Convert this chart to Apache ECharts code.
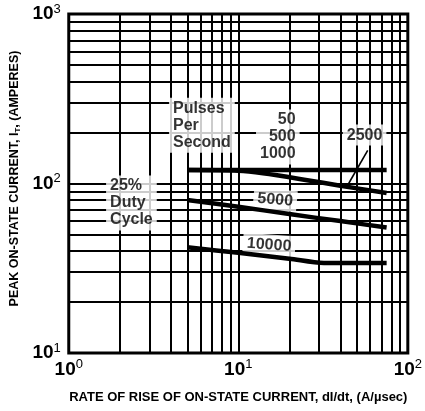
<!DOCTYPE html>
<html>
<head>
<meta charset="utf-8">
<script src="https://cdn.jsdelivr.net/npm/echarts@6/dist/echarts.min.js"></script>
<style>
  html, body { margin: 0; padding: 0; background: #fff; }
  #main { width: 425px; height: 411px; }
</style>
</head>
<body>
<div id="main"></div>
<script>
// grid lines of the log paper
var xGrid = [1, 2, 3, 4, 5, 6, 7, 8, 9, 10, 20, 30, 40, 50, 60, 70, 80, 90, 100]
var yGrid = [10, 20, 30, 40, 50, 60, 70, 80, 90, 100, 200, 300, 400, 500, 600, 700, 800, 900, 1000]

// curves, dI/dt (A/usec) against peak current (A)
var dIdtTop = [5, 75]
var ampsTop = [120, 120] // 50, 500, 1000 pps
var dIdt2500 = [5, 10, 14, 25, 40, 75]
var amps2500 = [120, 119, 115, 105, 97, 88]
var dIdt5000 = [5, 10, 20, 40, 75]
var amps5000 = [80, 73, 66, 60, 55]
var dIdt10000 = [5, 10, 20, 32, 75]
var amps10000 = [42, 39, 36, 34, 34]

// leader from the 2500 label to its curve
var leaderX = [58, 44]
var leaderY = [157, 97]

// text labels placed in data space
var notes = [
  { at: [3.9, 221], text: 'Pulses\nPer\nSecond', side: 'right' },
  { at: [23, 188], text: '50\n500\n1000', side: 'left' },
  { at: [55.6, 193], text: '2500', side: 'inside' },
  { at: [16.5, 80], text: '5000', side: 'inside', rot: -5 },
  { at: [15.2, 43.4], text: '10000', side: 'inside', rot: -4 },
  { at: [1.66, 76.7], text: '25%\nDuty\nCycle', side: 'right' }
]

function pairs (xs, ys) {
  return xs.map(function (x, i) { return [x, ys[i]] })
}

var sup = {
  b: { fontSize: 19, fontWeight: 'bold', fontFamily: 'Liberation Sans', color: '#000' },
  s: { fontSize: 13, fontFamily: 'Liberation Sans', color: '#000', padding: [0, 0, 10, 0] }
}

var chart = echarts.init(document.getElementById('main'))
var curveStyle = { color: '#000', width: 4.5 }
var option = {
  animation: false,
  backgroundColor: '#fff',
  grid: { left: 67, right: 13, top: 14, bottom: 58, show: true, borderColor: '#000', borderWidth: 3 },
  xAxis: {
    type: 'log',
    logBase: 10,
    min: 1,
    max: 100,
    splitLine: { show: false },
    axisLine: { show: false },
    axisTick: { show: false },
    axisLabel: {
      margin: 5,
      formatter: function (v) { return '{b|10}{s|' + Math.round(Math.log10(v)) + '}' },
      rich: sup
    },
    name: 'RATE OF RISE OF ON-STATE CURRENT, dI/dt, (A/\u00b5sec)',
    nameLocation: 'middle',
    nameGap: 38,
    nameTextStyle: { fontSize: 13, fontWeight: 'bold', fontFamily: 'Liberation Sans', color: '#000' }
  },
  yAxis: {
    type: 'log',
    logBase: 10,
    min: 10,
    max: 1000,
    splitLine: { show: false },
    axisLine: { show: false },
    axisTick: { show: false },
    axisLabel: {
      margin: 8,
      formatter: function (v) { return '{b|10}{s|' + Math.round(Math.log10(v)) + '}' },
      rich: sup
    },
    name: 'PEAK ON-STATE CURRENT, I{t|T}, (AMPERES)',
    nameLocation: 'middle',
    nameGap: 46,
    nameTextStyle: {
      fontSize: 12.5, fontWeight: 'bold', fontFamily: 'Liberation Sans', color: '#000',
      padding: [0, 0, 0, 10],
      rich: { t: { fontSize: 8, fontWeight: 'bold', fontFamily: 'Liberation Sans', color: '#000', padding: [6, 0, 0, 0] } }
    }
  },
  series: [
    {
      type: 'line',
      data: [[1, 10]],
      showSymbol: false,
      lineStyle: { width: 0 },
      z: 1,
      markLine: {
        silent: true,
        symbol: 'none',
        label: { show: false },
        lineStyle: { color: '#000', width: 2, type: 'solid' },
        data: xGrid.map(function (v) { return { xAxis: v } })
          .concat(yGrid.map(function (v) { return { yAxis: v } }))
      }
    },
    {
      type: 'scatter',
      symbolSize: 0,
      z: 5,
      data: notes.map(function (n) {
        return {
          value: n.at,
          label: {
            show: true,
            formatter: n.text,
            position: n.side,
            distance: 0,
            rotate: n.rot || 0,
            align: n.side === 'right' ? 'left' : (n.side === 'left' ? 'right' : 'center'),
            verticalAlign: 'middle',
            fontSize: 16,
            fontWeight: 'bold',
            fontFamily: 'Liberation Sans',
            lineHeight: 17,
            color: '#000',
            backgroundColor: '#fff',
            padding: [2, 4]
          }
        }
      })
    },
    { type: 'line', data: pairs(dIdtTop, ampsTop), symbol: 'none', lineStyle: curveStyle, z: 6 },
    { type: 'line', data: pairs(dIdt2500, amps2500), symbol: 'none', smooth: 0.3, lineStyle: curveStyle, z: 6 },
    { type: 'line', data: pairs(dIdt5000, amps5000), symbol: 'none', smooth: 0.3, lineStyle: curveStyle, z: 6 },
    { type: 'line', data: pairs(dIdt10000, amps10000), symbol: 'none', smooth: 0.3, lineStyle: curveStyle, z: 6 },
    { type: 'line', data: pairs(leaderX, leaderY), symbol: 'none', lineStyle: { color: '#000', width: 1.6 }, z: 6 }
  ]
}
chart.setOption(option)
</script>
</body>
</html>
